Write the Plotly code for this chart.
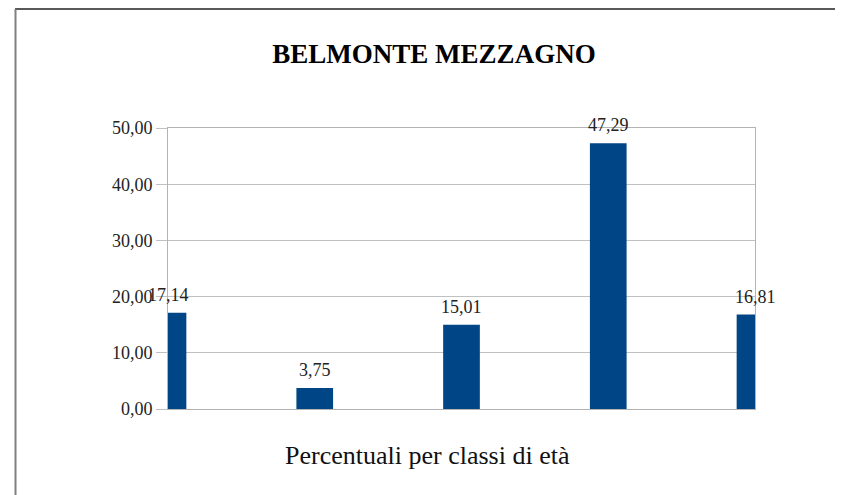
import plotly.graph_objects as go

positions = [0, 1, 2, 3, 4]
values = [17.14, 3.75, 15.01, 47.29, 16.81]
y_ticks = [0, 10, 20, 30, 40, 50]
title_text = "BELMONTE MEZZAGNO"
x_title = "Percentuali per classi di età"

# page body has an 8px margin; work in window pixel coordinates
OFF = 8
WIN_W, WIN_H = 843, 495
W, H = WIN_W - OFF, WIN_H - OFF
plot_left, plot_right, plot_top, plot_bottom = 168, 755, 128, 409
L = plot_left - OFF
T = plot_top - OFF
R = WIN_W - plot_right
B = WIN_H - plot_bottom
pw, ph = plot_right - plot_left, plot_bottom - plot_top

def px_x(x):
    return (x - plot_left) / pw

def px_y(y):
    return (plot_bottom - y) / ph

labels = [f"{v:.2f}".replace(".", ",") for v in values]

fig = go.Figure()
fig.add_trace(go.Bar(x=positions, y=values, width=0.25, marker_color="#004586",
                     marker_line_width=0, cliponaxis=True, hoverinfo="skip"))

annotations = [dict(x=xv, y=yv, xref="x", yref="y", text=t, showarrow=False,
                    xanchor="center", yanchor="bottom", yshift=6,
                    font=dict(family="Liberation Serif", size=18, color="#222"))
               for xv, yv, t in zip(positions, values, labels)]
annotations.append(dict(text=x_title, xref="paper", yref="paper",
                        x=px_x(427), y=px_y(455), xanchor="center", yanchor="middle",
                        showarrow=False,
                        font=dict(family="Liberation Serif", size=26, color="#111")))

fig.update_layout(
    width=W, height=H,
    margin=dict(l=L, r=R, t=T, b=B),
    paper_bgcolor="white", plot_bgcolor="white",
    showlegend=False,
    separators=",.",
    title=dict(text=f"<b>{title_text}</b>", x=(434 - OFF) / W, xanchor="center",
               y=1 - (54 - OFF) / H, yanchor="middle",
               font=dict(family="Liberation Serif", size=27, color="#000")),
    xaxis=dict(range=[0, 4], showticklabels=False, showgrid=False, zeroline=False,
               showline=True, linecolor="#b3b3b3", linewidth=1, mirror=True,
               ticks="", fixedrange=True),
    yaxis=dict(range=[0, 50], tickvals=y_ticks, tickformat=".2f",
               showgrid=True, gridcolor="#c0c0c0", gridwidth=1, zeroline=False,
               showline=True, linecolor="#b3b3b3", linewidth=1, mirror=True,
               ticks="outside", ticklen=11, tickcolor="#c0c0c0",
               tickfont=dict(family="Liberation Serif", size=18, color="#222")),
    annotations=annotations,
    shapes=[
        dict(type="line", xref="paper", yref="paper", x0=px_x(15), x1=px_x(860),
             y0=px_y(9), y1=px_y(9), line=dict(color="#222", width=1.5)),
        dict(type="line", xref="paper", yref="paper", x0=px_x(15.5), x1=px_x(15.5),
             y0=px_y(9), y1=px_y(495), line=dict(color="#808080", width=2)),
    ],
)

fig.write_html("out.html", config={"displayModeBar": False})
